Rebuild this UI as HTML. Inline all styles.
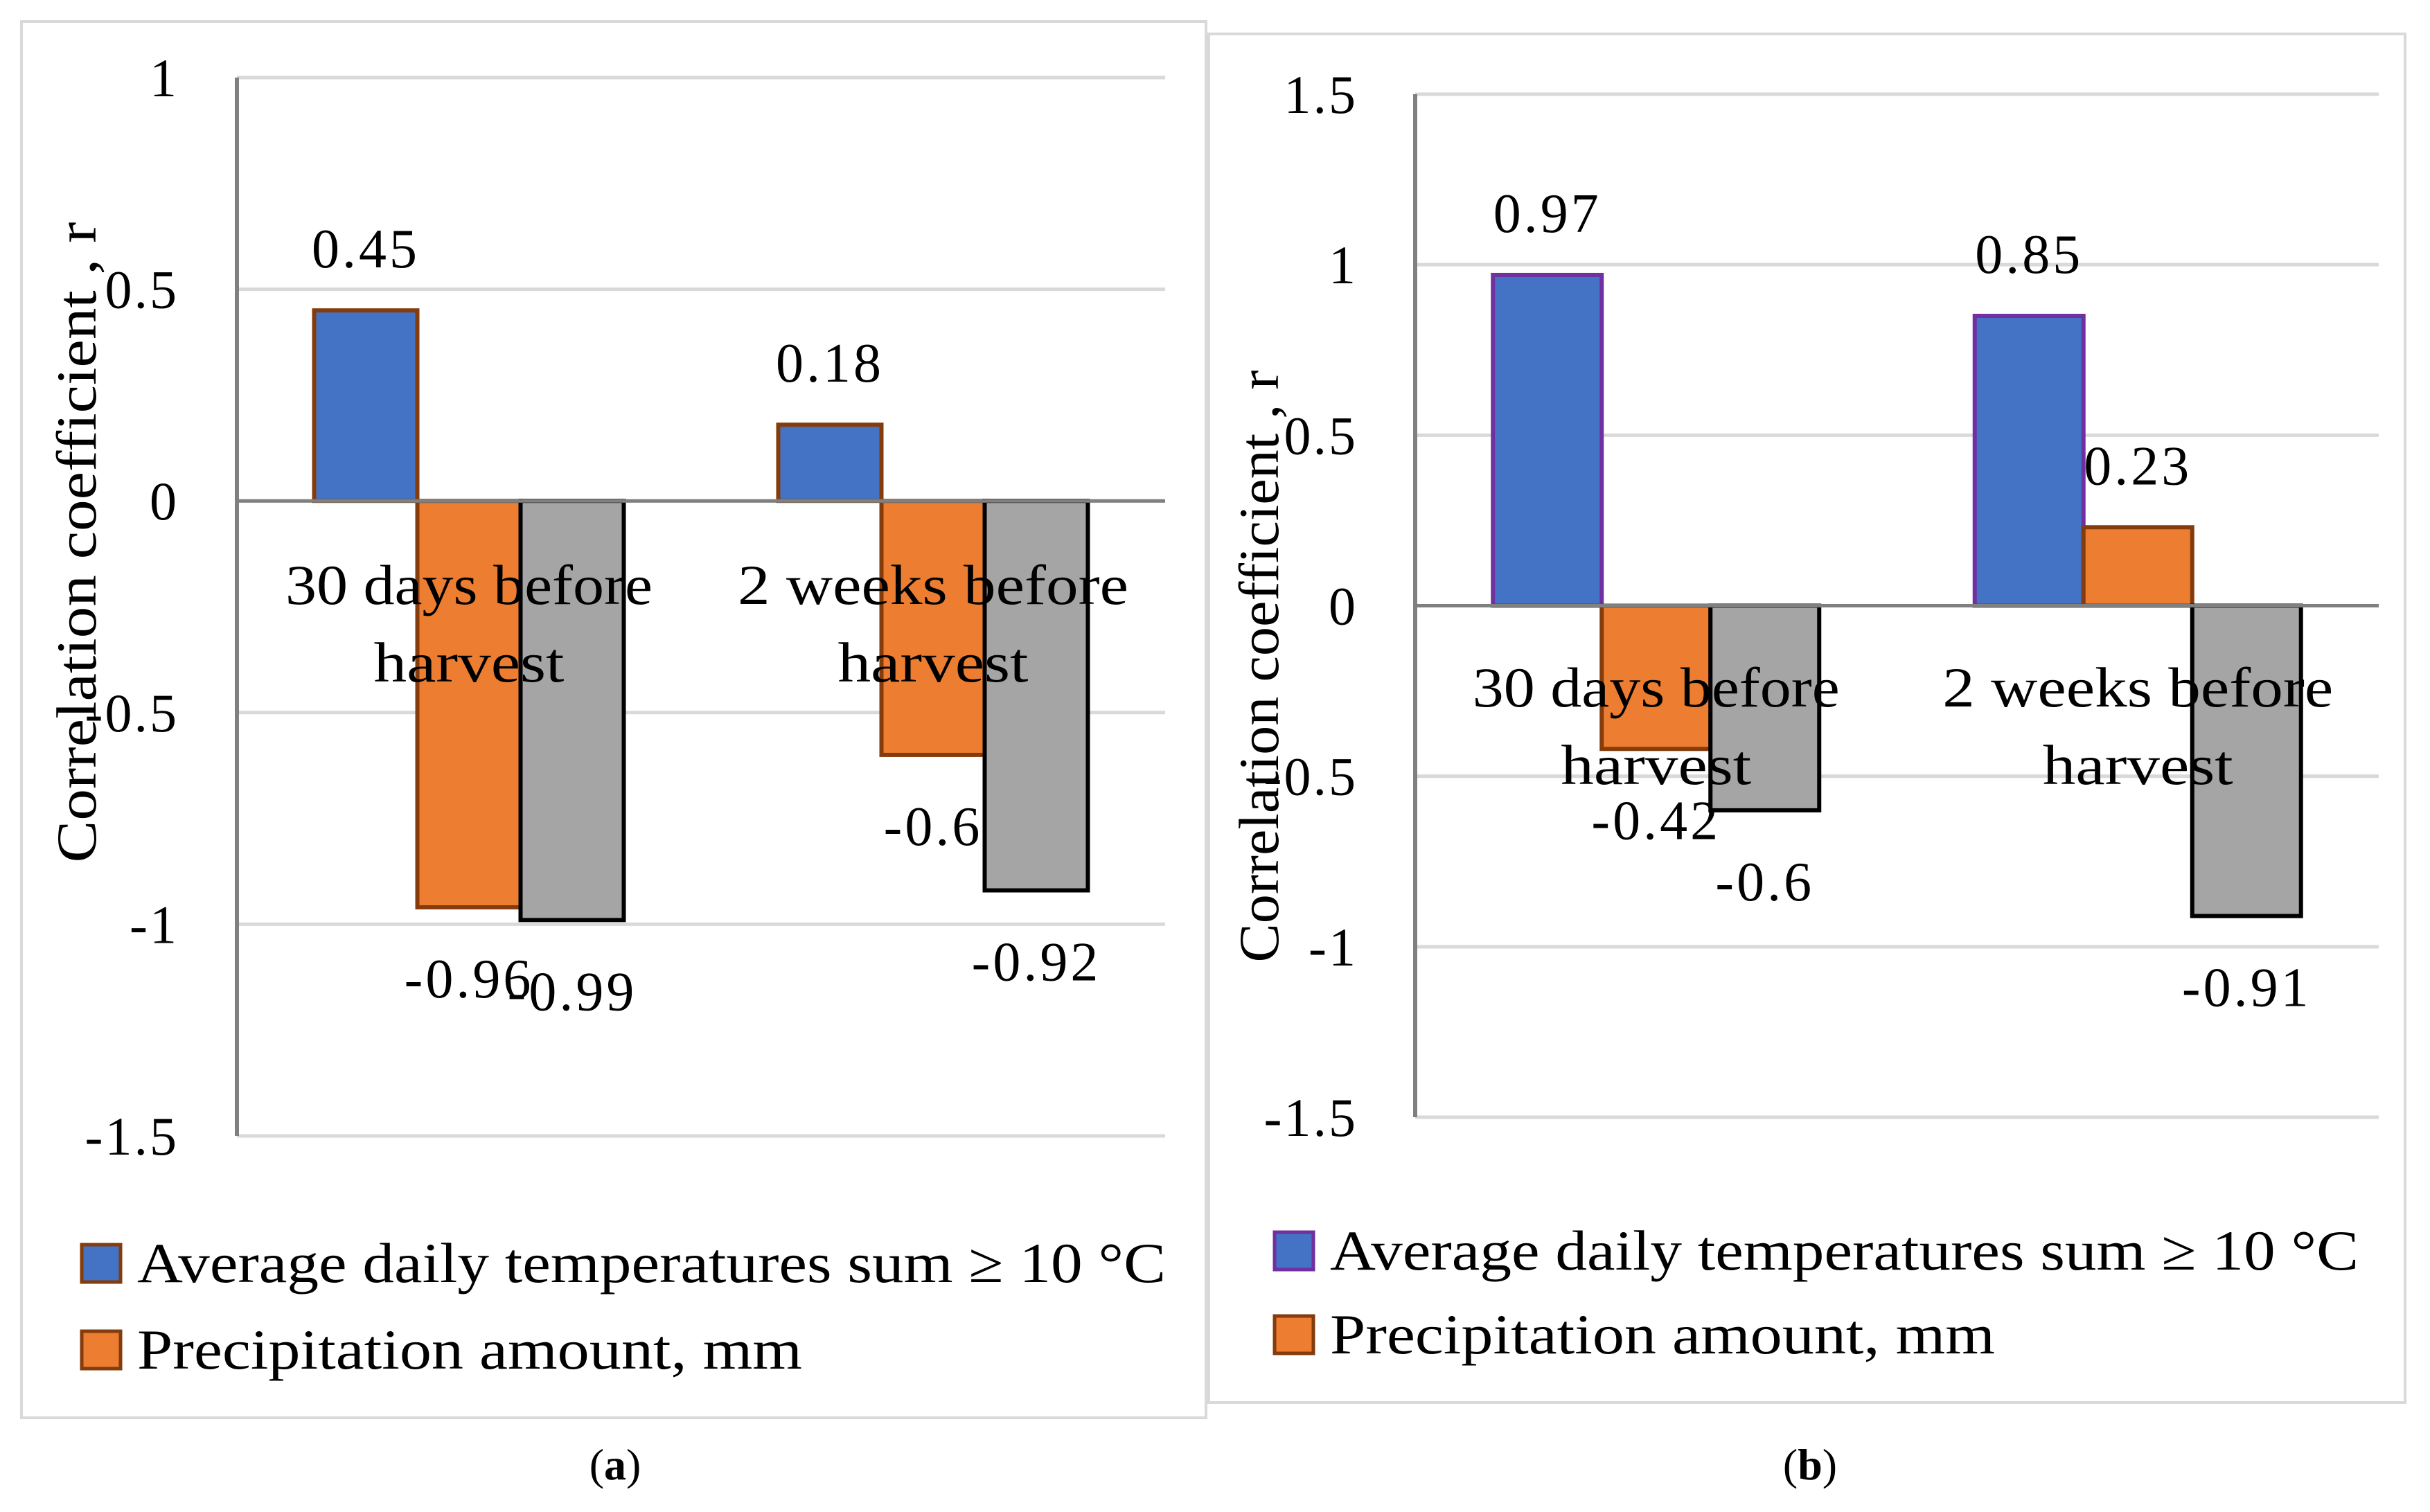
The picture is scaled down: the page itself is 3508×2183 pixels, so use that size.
<!DOCTYPE html>
<html><head><meta charset="utf-8"><style>
html,body{margin:0;padding:0;background:#fff;}
svg{display:block;font-family:"Liberation Serif",serif;}
</style></head><body>
<svg id="c" width="3508" height="2183" viewBox="0 0 3508 2183" xmlns="http://www.w3.org/2000/svg">
<rect x="31" y="31" width="1710" height="2016" fill="#fff" stroke="#d9d9d9" stroke-width="4"/>
<rect x="1745" y="49" width="1727" height="1976" fill="#fff" stroke="#d9d9d9" stroke-width="4"/>
<text x="888" y="2136" font-size="64" text-anchor="middle">(<tspan font-weight="bold">a</tspan>)</text>
<text x="2613" y="2136" font-size="64" text-anchor="middle">(<tspan font-weight="bold">b</tspan>)</text>
</svg>
<script>
const categories = ["30 days before|harvest", "2 weeks  before|harvest"];
const aTemp = [0.45, 0.18];
const aPrecip = [-0.96, -0.6];
const aThird = [-0.99, -0.92];
const bTemp = [0.97, 0.85];
const bPrecip = [-0.42, 0.23];
const bThird = [-0.6, -0.91];
const aTicks = [1, 0.5, 0, -0.5, -1, -1.5];
const bTicks = [1.5, 1, 0.5, 0, -0.5, -1, -1.5];
const legendLabels = ["Average daily temperatures sum \u2265 10 \u00B0C", "Precipitation amount, mm"];

const svg = document.getElementById('c');
const NS = 'http://www.w3.org/2000/svg';
const catLens = [530, 564];
function mk(tag, attrs, text) {
  const e = document.createElementNS(NS, tag);
  for (const k in attrs) e.setAttribute(k, attrs[k]);
  if (text !== undefined) e.textContent = text;
  svg.appendChild(e);
  return e;
}
function panel(p) {
  const y = v => p.y0 + (p.vmax - v) / (p.vmax - p.vmin) * (p.y1 - p.y0);
  p.ticks.forEach(t => {
    const g = mk('line', {x1: p.ax, x2: p.gx, y1: y(t), y2: y(t), stroke: '#d9d9d9', 'stroke-width': 5});
    
    
    const l = mk('text', {x: p.tx, y: y(t) + 27, 'font-size': 78, 'letter-spacing': 3, 'text-anchor': 'end'}, String(t));
    
    
  });
  const ax = mk('line', {x1: p.ax, x2: p.ax, y1: y(p.vmax), y2: y(p.vmin), stroke: '#808080', 'stroke-width': 6});
  
  
  const catW = (p.gx - p.ax) / categories.length;
  const series = [p.s1, p.s2, p.s3];
  const fills = ['#4472C4', '#ED7D31', '#A5A5A5'];
  const strokes = [p.blueStroke, '#843C0C', '#000'];
  categories.forEach((c, i) => {
    const cx = p.ax + catW * (i + 0.5);
    series.forEach((s, j) => {
      const v = s[i];
      const x = cx + (j - 1.5) * p.bw;
      const top = y(Math.max(v, 0)), bot = y(Math.min(v, 0));
      const r = mk('rect', {x: x, y: top, width: p.bw, height: bot - top, fill: fills[j], stroke: strokes[j], 'stroke-width': 6});
      
      
      const ly = v >= 0 ? y(v) - 62 : y(v) + 130;
      const t = mk('text', {x: x + p.bw / 2, y: ly, 'font-size': 80, 'letter-spacing': 4, 'text-anchor': 'middle'}, String(v));
      
      
    });
    const parts = c.split('|');
    parts.forEach((ln, k) => {
      const t = mk('text', {x: cx, y: p.catY + k * 112, 'font-size': 82, 'text-anchor': 'middle', 'xml:space': 'preserve',
        textLength: k === 0 ? catLens[i] : 275, lengthAdjust: 'spacingAndGlyphs'}, ln);
      
      
    });
  });
  const zl = mk('line', {x1: p.ax, x2: p.gx, y1: y(0), y2: y(0), stroke: '#808080', 'stroke-width': 5});
  
  
  const at = mk('text', {x: 0, y: 0, 'font-size': 82, 'text-anchor': 'middle', textLength: p.titleLen, lengthAdjust: 'spacingAndGlyphs',
    transform: 'translate(' + p.titleX + ',' + p.titleY + ') rotate(-90)'}, 'Correlation coefficient , r');
  
  
  legendLabels.forEach((lab, k) => {
    const sx = p.legX[k], sy = p.legY[k];
    const sq = mk('rect', {x: sx, y: sy, width: 56, height: 54, fill: fills[k], stroke: k === 0 ? p.blueStroke : '#843C0C', 'stroke-width': 5});
    
    
    const t = mk('text', {x: sx + 80, y: sy + 54, 'font-size': 82, textLength: k === 0 ? 1485 : 960, lengthAdjust: 'spacingAndGlyphs'}, lab);
    
    
  });
}
panel({ax: 342, gx: 1682, y0: 112, y1: 1640, vmax: 1, vmin: -1.5, ticks: aTicks, tx: 258, bw: 149,
  s1: aTemp, s2: aPrecip, s3: aThird, blueStroke: '#843C0C', catY: 872, titleX: 138, titleY: 783, titleLen: 925,
  legX: [118, 118], legY: [1797, 1922]});
panel({ax: 2043, gx: 3434, y0: 136, y1: 1613, vmax: 1.5, vmin: -1.5, ticks: bTicks, tx: 1960, bw: 157,
  s1: bTemp, s2: bPrecip, s3: bThird, blueStroke: '#7030A0', catY: 1020, titleX: 1845, titleY: 962, titleLen: 855,
  legX: [1840, 1840], legY: [1779, 1900]});
</script>
</body></html>
